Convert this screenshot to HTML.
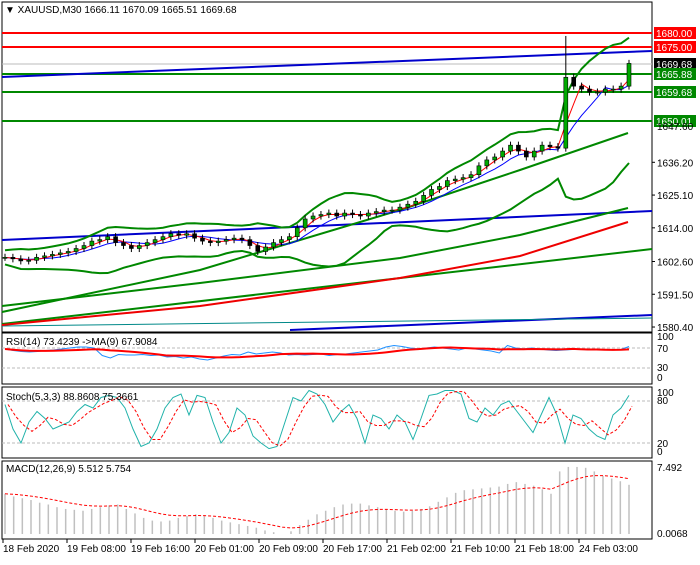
<!DOCTYPE html>
<html><head><meta charset="utf-8"><style>
body{margin:0;background:#fff;width:700px;height:560px;overflow:hidden;font-family:"Liberation Sans",sans-serif}
svg text{font-family:"Liberation Sans",sans-serif;font-size:10px}
</style></head><body>
<svg id="c" width="700" height="560"></svg>
<script>
const closes=[1604,1603.5,1602.8,1603,1604,1604.5,1605,1605.5,1606,1607,1608,1609.5,1610,1611,1609,1608,1607,1608,1609,1610,1611,1612,1611.5,1612,1610.5,1609.5,1609,1609.5,1610,1610.5,1610,1608,1606,1607.5,1609,1610,1611,1614,1617,1618,1618.5,1619,1618,1619,1618.5,1618,1619,1619.5,1620,1620,1621,1622,1623,1625,1627,1628,1630,1630.5,1631,1632,1635,1637,1638,1640,1642,1640,1638,1640,1642,1641.5,1641,1665,1662,1661,1660,1660,1661,1661,1662,1669.7];
const priceTicks=[1636.20,1625.10,1614.00,1602.60,1591.50,1580.40];
const rsiVals=[68,65,63,62,63,65,66,68,70,72,72,70,55,50,57,56,56,57,55,56,52,53,50,52,48,46,50,54,57,56,62,58,60,62,60,56,57,56,57,58,55,57,58,60,62,64,66,72,75,73,70,68,70,72,70,68,66,70,68,66,64,60,75,70,68,70,68,66,65,66,67,68,66,67,66,66,67,73];
const stochVals=[75,40,20,50,65,55,40,45,50,65,75,70,85,88,85,70,40,15,20,40,70,85,90,60,88,85,50,20,35,70,60,30,20,12,15,50,85,80,95,90,75,50,65,75,55,20,60,55,40,60,50,25,55,88,90,95,95,90,55,50,70,60,75,80,65,50,35,60,85,60,20,60,55,40,30,25,60,70,88];
const macdVals=[4.5,4.2,4,3.8,3.5,3.3,3.0,2.8,2.7,2.6,2.8,3.0,3.2,3.3,2.8,2.3,1.8,1.5,1.4,1.5,1.8,2.0,2.2,2.0,1.8,1.5,1.3,1.1,0.9,0.7,0.4,0.2,0.0,0.3,1.0,1.6,2.2,2.6,3.0,3.3,3.4,3.4,3.2,3.0,2.8,2.6,2.5,2.6,2.8,3.1,3.6,4.1,4.6,4.9,5.0,5.1,5.2,5.3,5.6,5.8,5.6,5.4,5.0,4.5,7.0,7.5,7.5,7.4,7.0,6.5,6.2,5.9,5.5];
const dateLabels=["18 Feb 2020","19 Feb 08:00","19 Feb 16:00","20 Feb 01:00","20 Feb 09:00","20 Feb 17:00","21 Feb 02:00","21 Feb 10:00","21 Feb 18:00","24 Feb 03:00"];

const S=document.getElementById('c');const NS='http://www.w3.org/2000/svg';
function el(t,a,p){const e=document.createElementNS(NS,t);for(const k in a)e.setAttribute(k,a[k]);(p||S).appendChild(e);return e;}
const X0=5,X1=629;
const py=p=>33+(1680-p)*2.952;
const xi=(i,n)=>X0+i*(X1-X0)/(n-1);
const ry=v=>383-v*0.5, sy=v=>457-v*0.7, my=v=>534-v/7.492*67;
function poly(pts,st,w,dash,name){const e=el('polyline',{points:pts.map(p=>p.join(',')).join(' '),fill:'none',stroke:st,'stroke-width':w,'stroke-dasharray':dash||''});return e;}
// panels
[[2,2,650,330,'main-panel'],[2,333,650,51,'rsi-panel'],[2,387,650,71,'stoch-panel'],[2,461,650,78,'macd-panel']].forEach(r=>{const e=el('rect',{x:r[0],y:r[1],width:r[2],height:r[3],fill:'#fff',stroke:'#000','stroke-width':1});});
// level lines
function ln(x1,y1,x2,y2,c,w,name){const e=el('line',{x1,y1,x2,y2,stroke:c,'stroke-width':w});}
ln(2,64,652,64,'#bbb',1,'current-price-line');
ln(2,33,652,33,'#f00',2,'resistance-1680');ln(2,47,652,47,'#f00',2,'resistance-1675');
ln(2,74,652,74,'#080',2,'support-1665');ln(2,92,652,92,'#080',2,'support-1659');ln(2,121,652,121,'#080',2,'support-1650');
ln(2,77,652,51,'#00c',2,'blue-trendline-top');ln(2,240,652,211,'#00c',2,'blue-trendline-mid');
ln(2,324,652,249,'#080',2,'green-trendline-low');ln(290,330,652,315,'#00c',2,'blue-trendline-bottom');ln(2,326,652,318,'#088',1,'teal-line');
// long MAs
poly([[2,312],[200,270],[400,210],[520,170],[628,133]],'#080',2,'','green-channel-line');
poly([[2,306],[200,283],[400,258],[520,235],[580,220],[628,208]],'#080',2,'','ma-long-green');
poly([[2,325],[200,306],[400,278],[520,256],[628,222]],'#e00',2,'','ma-200-red');
// bands & MAs
function sma(a,n,i){let s=0,c=0;for(let k=Math.max(0,i-n+1);k<=i;k++){s+=a[k];c++;}return s/c;}
function sd(a,n,i){const m=sma(a,n,i);let s=0,c=0;for(let k=Math.max(0,i-n+1);k<=i;k++){s+=(a[k]-m)**2;c++;}return Math.sqrt(s/c);}
const N=closes.length,up=[],lo=[],mid=[],e1=[],e2=[];
closes.forEach((c,i)=>{const m=sma(closes,12,i),d=sd(closes,12,i)+1.2;up.push([xi(i,N),py(m+2*d)]);lo.push([xi(i,N),py(m-2*d)]);mid.push([xi(i,N),py(m)]);e1.push([xi(i,N),py(sma(closes,3,i))]);e2.push([xi(i,N),py(sma(closes,6,i))]);});
poly(up,'#080',2,'','bollinger-upper');poly(lo,'#080',2,'','bollinger-lower');poly(e2,'#00f',1,'','ma-blue');poly(e1,'#f00',1,'','ma-red');
// candles
closes.forEach((c,i)=>{const o=i?closes[i-1]:c;const x=xi(i,N);const hi=Math.max(o,c)+(i==71?14:1.2),l=Math.min(o,c)-1.2;
const w=el('line',{x1:x,x2:x,y1:py(hi),y2:py(l),stroke:'#000','stroke-width':1});
const b=el('rect',{x:x-2,y:py(Math.max(o,c)),width:4,height:Math.max(1,Math.abs(c-o)*2.952),fill:c>=o?'#0a0':'#000',stroke:'#000','stroke-width':0.6});});
// price axis
priceTicks.forEach(p=>{const t=el('text',{x:657,y:py(p)+4});t.textContent=p.toFixed(2);el('line',{x1:652,x2:655,y1:py(p),y2:py(p),stroke:'#000'});});
[[1680,'#f00','#fff',33],[1675,'#f00','#fff',47],[1669.68,'#000','#fff',64],[1665.88,'#080','#fff',74],[1659.68,'#080','#fff',92],[1650.01,'#080','#fff',121]].forEach(a=>{const r=el('rect',{x:654,y:a[3]-6,width:42,height:12,fill:a[1]});const t=el('text',{x:656,y:a[3]+4,fill:a[2]});t.textContent=a[0].toFixed(2);});
const t0=el('text',{x:657,y:130});t0.textContent='1647.60';
const tt=el('text',{x:5,y:13});tt.textContent='▼ XAUUSD,M30  1666.11 1670.09 1665.51 1669.68';
// RSI
[70,30].forEach(v=>{const e=el('line',{x1:2,x2:652,y1:ry(v),y2:ry(v),stroke:'#bbb','stroke-dasharray':'3,2'});});
const rn=rsiVals.length;
poly(rsiVals.map((v,i)=>[xi(i,rn),ry(v)]),'#1e90ff',1,'','rsi-line');
poly(rsiVals.map((v,i)=>[xi(i,rn),ry(sma(rsiVals,9,i))]),'#f00',2,'','rsi-ma-line');
const rt=el('text',{x:6,y:345});rt.textContent='RSI(14) 73.4239  ->MA(9) 67.9084';
[[100,340],[70,352],[30,371],[0,381]].forEach(a=>{const t=el('text',{x:657,y:a[1]});t.textContent=a[0];});
// Stoch
[80,20].forEach(v=>{const e=el('line',{x1:2,x2:652,y1:sy(v),y2:sy(v),stroke:'#bbb','stroke-dasharray':'3,2'});});
const sn=stochVals.length;
poly(stochVals.map((v,i)=>[xi(i,sn),sy(v)]),'#20b2aa',1,'','stoch-main');
poly(stochVals.map((v,i)=>[xi(i,sn)+3,sy(sma(stochVals,3,i))]),'#f00',1,'3,2','stoch-signal');
const st=el('text',{x:6,y:400});st.textContent='Stoch(5,3,3) 88.8608 75.3661';
[[100,396],[80,404],[20,447],[0,455]].forEach(a=>{const t=el('text',{x:657,y:a[1]});t.textContent=a[0];});
// MACD
const mn=macdVals.length;
macdVals.forEach((v,i)=>{const x=xi(i,mn);const b=el('line',{x1:x,x2:x,y1:my(0),y2:my(v),stroke:'#c0c0c0','stroke-width':1.5});});
let ema=macdVals[0];const sig=macdVals.map((v,i)=>{ema=ema+(v-ema)*0.2;return [xi(i,mn),my(ema)];});
poly(sig,'#f00',1,'3,2','macd-signal');
const mt=el('text',{x:6,y:472});mt.textContent='MACD(12,26,9) 5.512 5.754';
const m1=el('text',{x:657,y:471});m1.textContent='7.492';const m2=el('text',{x:657,y:537});m2.textContent='0.0068';
// dates
dateLabels.forEach((d,i)=>{const x=3+i*64;el('line',{x1:x,x2:x,y1:539,y2:543,stroke:'#000'});const t=el('text',{x:x,y:552});t.textContent=d;});
</script>
</body></html>
